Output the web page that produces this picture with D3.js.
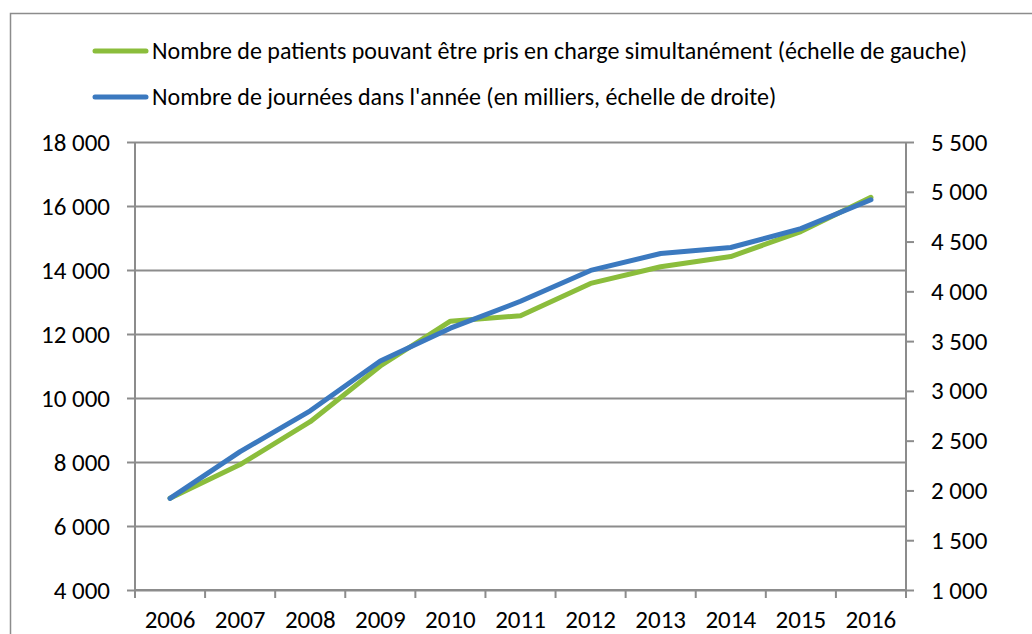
<!DOCTYPE html>
<html>
<head>
<meta charset="utf-8">
<script src="https://cdn.jsdelivr.net/npm/d3@7"></script>
<style>
  body { margin: 0; background: #fff; }
  svg { display: block; font-family: Carlito, Calibri, Lato, sans-serif; }
</style>
</head>
<body>
<script>
// data
const years = ["2006", "2007", "2008", "2009", "2010", "2011", "2012", "2013", "2014", "2015", "2016"];
const patients = [6870, 7920, 9260, 11000, 12400, 12570, 13580, 14100, 14420, 15200, 16270];
const journees = [1920, 2390, 2800, 3300, 3630, 3900, 4210, 4380, 4440, 4630, 4920];
const leftTicks = [4000, 6000, 8000, 10000, 12000, 14000, 16000, 18000];
const rightTicks = [1000, 1500, 2000, 2500, 3000, 3500, 4000, 4500, 5000, 5500];
const legendLabels = [
  "Nombre de patients pouvant être pris en charge simultanément (échelle de gauche)",
  "Nombre de journées dans l'année (en milliers, échelle de droite)"
];

const width = 1032, height = 634;
const margin = {top: 142, right: 126, bottom: 44, left: 135};
const green = "#8bbd3c", blue = "#3b79bf", grey = "#8c8c8c";

const fmt = v => d3.format(",")(v).replace(/,/g, " ");

const svg = d3.select("body").append("svg")
    .attr("width", width)
    .attr("height", height);

// outer frame (only top and left visible)
svg.append("path")
    .attr("d", `M10.5,${height} V13.5 H${width}`)
    .attr("fill", "none")
    .attr("stroke", grey)
    .attr("stroke-width", 1.5);

const x = d3.scaleBand()
    .domain(years)
    .range([margin.left, width - margin.right]);

const yL = d3.scaleLinear()
    .domain([4000, 18000])
    .range([height - margin.bottom, margin.top]);

const yR = d3.scaleLinear()
    .domain([1000, 5500])
    .range([height - margin.bottom, margin.top]);

// gridlines
svg.append("g")
    .selectAll("line")
    .data(leftTicks)
    .join("line")
    .attr("x1", margin.left)
    .attr("x2", width - margin.right)
    .attr("y1", d => Math.round(yL(d)) + 0.5)
    .attr("y2", d => Math.round(yL(d)) + 0.5)
    .attr("stroke", grey)
    .attr("stroke-width", 2);

// left axis
const gL = svg.append("g")
    .attr("transform", `translate(${margin.left},0)`)
    .call(d3.axisLeft(yL).tickValues(leftTicks).tickFormat(fmt).tickSize(8).tickPadding(17));

// right axis
const gR = svg.append("g")
    .attr("transform", `translate(${width - margin.right},0)`)
    .call(d3.axisRight(yR).tickValues(rightTicks).tickFormat(fmt).tickSize(8).tickPadding(17));

// bottom axis, ticks between categories
const gB = svg.append("g")
    .attr("transform", `translate(0,${height - margin.bottom})`)
    .call(d3.axisBottom(x).tickSize(0).tickPadding(20));

gB.selectAll(".sep")
    .data(years.concat(["end"]))
    .join("line")
    .attr("class", "sep")
    .attr("x1", (d, i) => margin.left + i * x.step())
    .attr("x2", (d, i) => margin.left + i * x.step())
    .attr("y1", 0)
    .attr("y2", 8)
    .attr("stroke", grey)
    .attr("stroke-width", 2);

[gL, gR, gB].forEach(g => {
    g.select(".domain").attr("stroke", grey).attr("stroke-width", 2);
    g.selectAll(".tick line").attr("stroke", grey).attr("stroke-width", 2);
    g.selectAll("text")
        .attr("fill", "#000")
        .style("font-family", "Carlito, Calibri, Lato, sans-serif")
        .style("font-size", "25px");
});
gL.select(".domain").attr("d", `M0,${margin.top}V${height - margin.bottom}`);
gR.select(".domain").attr("d", `M0,${margin.top}V${height - margin.bottom}`);
gB.select(".domain").attr("d", `M${margin.left},0H${width - margin.right}`);

// lines
const lineL = d3.line()
    .x((d, i) => x(years[i]) + x.bandwidth() / 2)
    .y(d => yL(d));

const lineR = d3.line()
    .x((d, i) => x(years[i]) + x.bandwidth() / 2)
    .y(d => yR(d));

svg.append("path")
    .datum(patients)
    .attr("d", lineL)
    .attr("fill", "none")
    .attr("stroke", green)
    .attr("stroke-width", 5)
    .attr("stroke-linecap", "round")
    .attr("stroke-linejoin", "round");

svg.append("path")
    .datum(journees)
    .attr("d", lineR)
    .attr("fill", "none")
    .attr("stroke", blue)
    .attr("stroke-width", 5)
    .attr("stroke-linecap", "round")
    .attr("stroke-linejoin", "round");

// legend
const legend = svg.append("g")
    .selectAll("g")
    .data(legendLabels)
    .join("g")
    .attr("transform", (d, i) => `translate(0,${51 + i * 46})`);

legend.append("line")
    .attr("x1", 95)
    .attr("x2", 146)
    .attr("stroke", (d, i) => i === 0 ? green : blue)
    .attr("stroke-width", 5)
    .attr("stroke-linecap", "round");

legend.append("text")
    .attr("x", 152)
    .attr("y", 8)
    .style("font-size", "24px")
    .text(d => d);
</script>
</body>
</html>
